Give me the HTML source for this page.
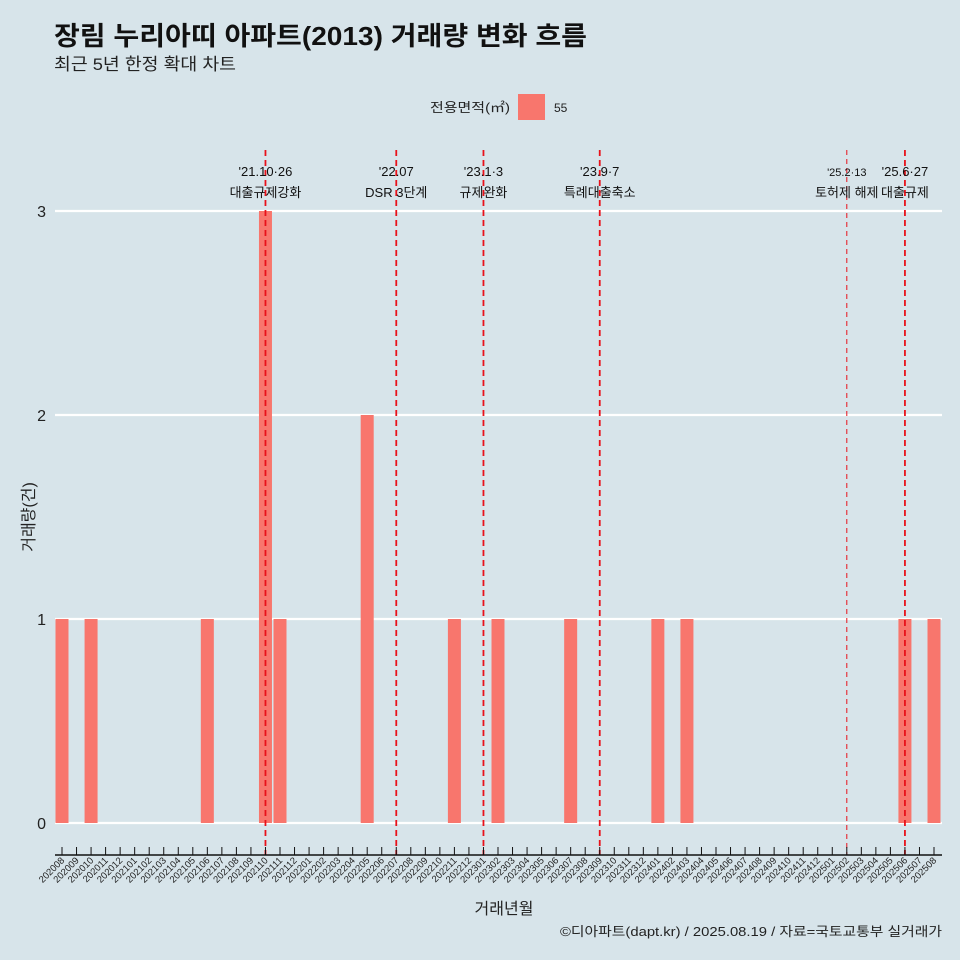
<!DOCTYPE html>
<html><head><meta charset="utf-8"><style>
body{margin:0;background:#d7e4ea;}
svg{display:block;font-family:"Liberation Sans","Noto Sans CJK KR",sans-serif;}
</style></head><body>
<svg width="960" height="960">
<rect width="960" height="960" fill="#d7e4ea"/>
<text x="54" y="45" font-size="26" font-weight="bold" fill="#111" textLength="533" lengthAdjust="spacingAndGlyphs">장림 누리아띠 아파트(2013) 거래량 변화 흐름</text>
<text x="54" y="70" font-size="17" fill="#222" textLength="182" lengthAdjust="spacingAndGlyphs">최근 5년 한정 확대 차트</text>
<text x="510" y="112" font-size="13" text-anchor="end" fill="#222" textLength="80" lengthAdjust="spacingAndGlyphs">전용면적(㎡)</text>
<rect x="518" y="94" width="27" height="26" fill="#f8766d"/>
<text x="554" y="112" font-size="12" fill="#222">55</text>
<g id="grid"></g><g id="bars"></g><g id="vlines"></g><g id="xaxis"></g><g id="yaxis"></g>
<text x="504" y="914" font-size="16" text-anchor="middle" fill="#222">거래년월</text>
<text transform="translate(34,517) rotate(-90)" font-size="16" text-anchor="middle" fill="#222">거래량(건)</text>
<text x="942" y="936" font-size="13" text-anchor="end" fill="#222" textLength="382" lengthAdjust="spacingAndGlyphs">©디아파트(dapt.kr) / 2025.08.19 / 자료=국토교통부 실거래가</text>
</svg>
<script>
const months=[];for(let y=2020;y<=2025;y++)for(let m=1;m<=12;m++){const k=y*100+m;if(k>=202008&&k<=202508)months.push(String(k));}
const barMonths=["202008","202010","202106","202110","202111","202205","202211","202302","202307","202401","202403","202506","202508"];
const barValues=[1,1,1,3,1,2,1,1,1,1,1,1,1];
const yTicks=[0,1,2,3];
const eventMonths=["202110","202207","202301","202309","202502","202506"];
const eventDates=["'21.10·26","'22.07","'23.1·3","'23.9·7","'25.2·13","'25.6·27"];
const eventLabels=["대출규제강화","DSR 3단계","규제완화","특례대출축소","토허제 해제","대출규제"];
const ns="http://www.w3.org/2000/svg";
const x=m=>62+months.indexOf(m)*(934-62)/(months.length-1);
const y=v=>823-v*204;
function mk(tag,a,parent){const e=document.createElementNS(ns,tag);for(const k in a)e.setAttribute(k,a[k]);document.getElementById(parent).appendChild(e);return e;}
yTicks.forEach(t=>{
 const l=mk('line',{x1:55,x2:942,y1:y(t),y2:y(t),stroke:'#fff','stroke-width':2.2},'grid');
 
 
 const tx=mk('text',{x:46,y:y(t)+6,'font-size':16,'text-anchor':'end',fill:'#222'},'yaxis');tx.textContent=t;
 
 
});
const bw=13;
barMonths.forEach((m,i)=>{
 const r=mk('rect',{x:x(m)-bw/2,y:y(barValues[i]),width:bw,height:y(0)-y(barValues[i]),fill:'#f8766d'},'bars');
 
 
});
eventMonths.forEach((m,i)=>{
 const thin=m==="202502";
 const l=mk('line',{x1:x(m),x2:x(m),y1:150,y2:855,stroke:'#e8111a','stroke-width':thin?1:1.8,'stroke-dasharray':thin?'5,4':'6,4'},'vlines');
 
 
 const ax=x(m);
 const t1=mk('text',{x:ax,y:176,'font-size':thin?11:13,'text-anchor':'middle',fill:'#111'},'vlines');t1.textContent=eventDates[i];
 
 
 const t2=mk('text',{x:ax,y:197,'font-size':13,'text-anchor':'middle',fill:'#111'},'vlines');t2.textContent=eventLabels[i];
 
 
});
const ax=mk('line',{x1:55,x2:942,y1:855,y2:855,stroke:'#111','stroke-width':1.5},'xaxis');


months.forEach(m=>{
 const t=mk('line',{x1:x(m),x2:x(m),y1:847,y2:855,stroke:'#111','stroke-width':1},'xaxis');
 
 
 const l=mk('text',{transform:`translate(${x(m)+3},861) rotate(-45)`,'font-size':9.5,'text-anchor':'end',fill:'#222'},'xaxis');l.textContent=m;
 
 
});
</script>
</body></html>
